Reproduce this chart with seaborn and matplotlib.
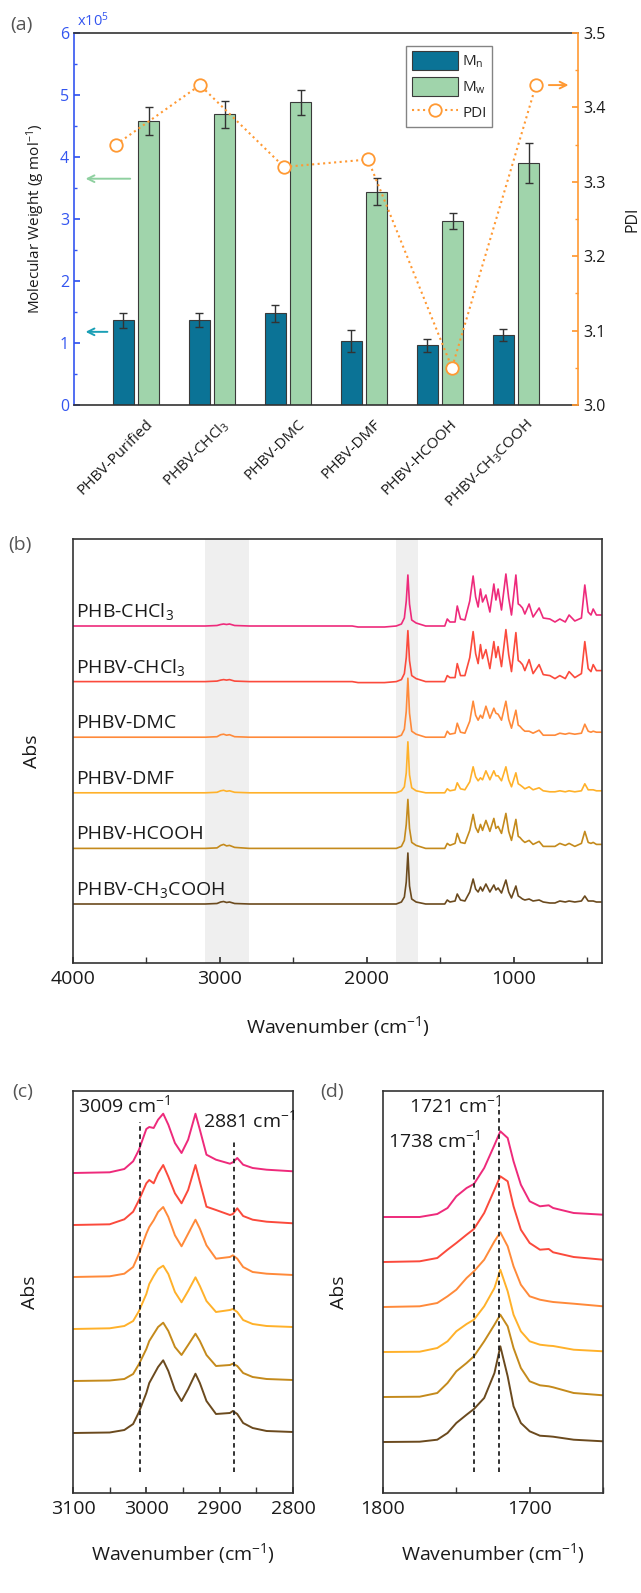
import numpy as np
import pandas as pd
import matplotlib
matplotlib.use("Agg")
import matplotlib.pyplot as plt
import matplotlib.transforms as mtransforms
from matplotlib.ticker import MultipleLocator, FormatStrFormatter, NullLocator
from matplotlib.patches import Patch
from matplotlib.lines import Line2D
import seaborn as sns

# ---------------- (a) molecular weight and PDI ----------------
samples = ["PHBV-Purified", "PHBV-CHCl$_3$", "PHBV-DMC", "PHBV-DMF",
           "PHBV-HCOOH", "PHBV-CH$_3$COOH"]
mn = [1.37, 1.37, 1.48, 1.03, 0.96, 1.13]          # x10^5 g/mol
mn_err = [0.12, 0.11, 0.14, 0.18, 0.11, 0.10]
mw = [4.58, 4.69, 4.88, 3.44, 2.97, 3.90]          # x10^5 g/mol
mw_err = [0.22, 0.22, 0.20, 0.22, 0.13, 0.32]
pdi = [3.35, 3.43, 3.32, 3.33, 3.05, 3.43]

# ---------------- (b) full FTIR spectra ----------------
spec_names = ["PHB-CHCl$_3$", "PHBV-CHCl$_3$", "PHBV-DMC", "PHBV-DMF",
              "PHBV-HCOOH", "PHBV-CH$_3$COOH"]
wn_b = [4000, 3500, 3100, 3020, 2995, 2975, 2955, 2935, 2900, 2800,
        2620, 2100, 2060, 1880, 1800, 1765, 1745, 1732, 1721, 1710,
        1695, 1665, 1600, 1470, 1453, 1435, 1400, 1385, 1363, 1333,
        1300, 1277, 1260, 1243, 1227, 1213, 1190, 1163, 1136, 1122,
        1107, 1084, 1054, 1035, 1016, 986, 970, 959, 941, 925,
        896, 869, 828, 800, 755, 720, 687, 650, 624, 585,
        540, 517, 494, 475, 460, 438, 404]
abs_phb_chcl3 = [0, 0, 0, 0.5, 1.5, 2, 1.5, 2, 0.5, 0,
                 0, 0, -1, -1, 0, 2, 8, 25, 51, 22,
                 6, 3, 0, 0, 7, 4, 4, 20, 7, 6,
                 25, 50, 29, 19, 37, 24, 31, 14, 42, 26,
                 37, 16, 52, 28, 11, 51, 22, 21, 18, 12,
                 22, 9, 18, 8, 7, 4, 7, 4, 11, 5,
                 8, 41, 14, 11, 17, 11, 11]
abs_phbv_chcl3 = [0, 0, 0, 0.5, 1.5, 2, 1.5, 2, 0.5, 0,
                  0, 0, -1, -1, 0, 2, 8, 24, 51, 21,
                  6, 3, 0, 0, 6, 4, 4, 18, 6, 6,
                  24, 50, 28, 18, 37, 23, 32, 13, 40, 24,
                  35, 15, 52, 27, 10, 49, 21, 20, 17, 11,
                  22, 8, 17, 7, 6, 3, 6, 3, 10, 4,
                  8, 40, 13, 10, 17, 11, 11]
abs_dmc = [0, 0, 0, 0.5, 2.5, 3, 2, 2.5, 0.5, 0,
           0, 0, 0, 0, 0, 2, 8, 26, 59, 24,
           6, 3, 0, 0, 6, 3, 4, 14, 5, 4,
           16, 36, 22, 17, 22, 19, 31, 19, 29, 24,
           23, 17, 36, 18, 9, 27, 12, 11, 8, 6,
           6, 4, 7, 2, 2, 2, 4, 3, 4, 3,
           4, 13, 6, 5, 6, 5, 5]
abs_dmf = [0, 0, 0, 0.5, 2, 2.5, 1.5, 2, 0.5, 0,
           0, 0, 0, 0, 0, 2, 6, 20, 51, 18,
           5, 2, 0, 0, 4, 2, 3, 10, 4, 3,
           11, 26, 16, 12, 15, 13, 22, 13, 22, 17,
           17, 12, 26, 13, 6, 20, 9, 8, 6, 4,
           6, 3, 5, 2, 1, 1, 2, 1, 2, 1,
           2, 9, 3, 3, 3, 2, 2]
abs_hcooh = [0, 0, 0, 0.5, 3, 4, 2.5, 3, 1, 0,
             0, 0, 0, 0, 0, 2, 8, 24, 49, 20,
             6, 3, 0, 0, 5, 3, 5, 15, 6, 5,
             18, 34, 21, 16, 24, 18, 28, 17, 30, 20,
             22, 15, 35, 17, 8, 29, 12, 11, 8, 6,
             8, 4, 7, 2, 2, 2, 5, 3, 5, 2,
             5, 17, 6, 5, 6, 4, 4]
abs_ch3cooh = [0, 0, 0, 0.5, 2, 2.5, 1.5, 2, 0.5, 0,
               0, 0, 0, 0, 0, 2, 7, 22, 51, 18,
               5, 2, 0, 0, 4, 2, 3, 10, 4, 3,
               12, 25, 15, 12, 17, 13, 20, 12, 19, 14,
               16, 11, 24, 12, 6, 18, 8, 7, 5, 4,
               5, 3, 4, 2, 1, 1, 3, 2, 3, 2,
               3, 8, 3, 3, 3, 2, 2]
spectra_b = [abs_phb_chcl3, abs_phbv_chcl3, abs_dmc, abs_dmf, abs_hcooh, abs_ch3cooh]

# ---------------- (c) C-H stretching region ----------------
wn_c = [3100, 3050, 3030, 3018, 3010, 3000, 2996, 2990, 2984, 2977,
        2970, 2961, 2952, 2943, 2933, 2927, 2918, 2905, 2886, 2882,
        2876, 2868, 2855, 2836, 2800]
spectra_c = [
    [0, 0.7, 4, 11.7, 23.3, 44, 46, 45, 53.3, 59.3,
     48.3, 30, 20, 33.3, 59.3, 43.3, 18.3, 13.3, 9.3, 10.7,
     15, 8.3, 5, 3.3, 1.7],
    [0, 0.7, 5.7, 13.3, 25, 41.7, 45, 41.7, 51.7, 60,
     48.3, 31.7, 21.7, 35, 60, 43, 18.3, 15, 10, 11,
     16.7, 9, 5.3, 3.3, 1.7],
    [0, 0.7, 3.3, 10, 23.3, 43.3, 50, 56.7, 65, 70,
     60, 41.7, 30.7, 43.3, 57.3, 48.3, 31.7, 18.3, 20, 21.7,
     18.3, 10, 5, 3.3, 2],
    [0, 0.7, 3, 8, 18, 35, 45, 53, 60, 63.3,
     55, 37, 26.7, 38, 51.7, 43, 28, 17, 19, 20,
     17, 9, 5, 3, 2],
    [0, 0.5, 2, 7, 17, 32, 40, 47, 54, 58.3,
     50, 34, 26, 36, 47.3, 40, 26, 15, 16, 17.3,
     15, 8, 4, 2, 1],
    [0, 0.5, 3, 9, 21, 40, 50, 58, 66, 72.7,
     62, 43, 32, 44, 59.3, 50, 32, 19, 20, 22,
     19, 10, 5, 2, 1],
]
peaks_c = [3009, 2881]

# ---------------- (d) C=O stretching region ----------------
wn_d = [1800, 1775, 1763, 1756, 1750, 1743, 1738, 1731, 1724, 1720,
        1715, 1711, 1706, 1700, 1693, 1687, 1684, 1670, 1650]
spectra_d = [
    [0, 0, 3, 9, 20.7, 29, 33, 49, 72, 85.7,
     79, 55.7, 32.3, 15.7, 10.7, 11.7, 9, 4, 2.3],
    [0, 0.7, 4, 12.3, 19, 27.3, 33, 49, 72.3, 85.7,
     80.7, 55.7, 32.3, 19, 12.3, 13, 9.7, 5, 2.3],
    [0, 0.7, 4, 10.7, 17.3, 29, 35.7, 47.3, 65.7, 74.7,
     60.7, 40.7, 22.3, 10.7, 7.3, 5.7, 5, 3.3, 0.7],
    [0, 0.3, 4, 10.7, 20.7, 28, 32.3, 45.7, 64, 82.3,
     60.7, 37.3, 20.7, 10.7, 7.3, 6.3, 6, 2.3, 0.7],
    [0, 0.3, 4, 14, 25.7, 34, 40.7, 55.7, 72.3, 82.3,
     70.7, 49, 29, 15.7, 11.7, 10.7, 9.7, 4, 1.7],
    [0, 0.3, 2.3, 9, 19, 27.3, 33, 44, 69, 95.7,
     65.7, 35.7, 19, 10.7, 6.3, 5.7, 5.3, 2.3, 0.7],
]
peaks_d = [1721, 1738]

# ---------------- style ----------------
sns.set_theme(style="ticks")
plt.rcParams["font.family"] = ["Open Sans", "DejaVu Sans"]
plt.rcParams["mathtext.default"] = "regular"
plt.rcParams["axes.edgecolor"] = "#333333"

blue = "#3355f0"
orange = "#ff9933"
mn_color = "#0b7396"
mw_color = "#a0d4ab"
line_colors = ["#ee2a7b", "#fb4a3c", "#ff8a3a", "#ffb12a", "#c48a1c", "#6b4a1e"]
txt = "#1a1a1a"

W, H = 641, 1593
fig = plt.figure(figsize=(W / 100, H / 100), dpi=100)


def rect(l, t, r, b):
    return [l / W, 1 - b / H, (r - l) / W, (b - t) / H]


def panel_label(x, y, s):
    fig.text(x / W, 1 - y / H, s, fontsize=14, color="#555555", va="center", ha="left")


# ---------------- panel (a) ----------------
ax = fig.add_axes(rect(74, 33, 578, 405))
df = pd.DataFrame({"sample": samples * 2,
                   "series": ["Mn"] * 6 + ["Mw"] * 6,
                   "value": mn + mw})
sns.barplot(data=df, x="sample", y="value", hue="series", order=samples,
            palette=[mn_color, mw_color], saturation=1, width=0.672, gap=0.18,
            edgecolor="#3a3a3a", linewidth=0.8, errorbar=None, legend=False, ax=ax)
for cont, err in zip(ax.containers, [mn_err, mw_err]):
    xs = [p.get_x() + p.get_width() / 2 for p in cont]
    ys = [p.get_height() for p in cont]
    ax.errorbar(xs, ys, yerr=err, fmt="none", ecolor="#333333",
                elinewidth=1, capsize=3, capthick=1, zorder=5)

ax.set_xlim(-0.816, 5.816)
ax.set_ylim(0, 6)
ax.set_xlabel("")
ax.set_ylabel("Molecular Weight (g mol$^{-1}$)", fontsize=11, color=txt)
ax.yaxis.set_label_coords(-0.054, 0.5)
ax.yaxis.set_major_locator(MultipleLocator(1))
ax.yaxis.set_minor_locator(MultipleLocator(0.5))
ax.tick_params(axis="y", which="both", direction="in", colors=blue, labelsize=11.5)
ax.tick_params(axis="y", which="major", length=4)
ax.tick_params(axis="y", which="minor", length=2.5)
ax.tick_params(axis="x", length=0, labelsize=11, labelcolor=txt, pad=4)
ax.set_xticks(range(len(samples)))
ax.set_xticklabels(samples, rotation=45, ha="right", va="top", rotation_mode="anchor")
shift = mtransforms.ScaledTranslation(9 / 100, -6 / 100, fig.dpi_scale_trans)
for lab in ax.get_xticklabels():
    lab.set_transform(lab.get_transform() + shift)
ax.spines["left"].set_color(blue)
ax.spines["right"].set_visible(False)
for s in ["left", "top", "bottom"]:
    ax.spines[s].set_linewidth(1.2)
ax.text(0.006, 1.008, "x10$^5$", transform=ax.transAxes, color=blue,
        fontsize=10.5, va="bottom", ha="left")
ax.annotate("", xy=(-0.70, 3.65), xytext=(-0.04, 3.65),
            arrowprops=dict(arrowstyle="->", color="#8fd0a0", lw=1.4))
ax.annotate("", xy=(-0.70, 1.18), xytext=(-0.34, 1.18),
            arrowprops=dict(arrowstyle="->", color="#1a9fb5", lw=1.4))

ax2 = fig.add_axes(rect(74, 33, 578, 405), label="pdi")
ax2.patch.set_visible(False)
sns.lineplot(x=np.arange(len(pdi)), y=pdi, ax=ax2, color=orange, lw=1.5,
             linestyle=":", marker="o", markersize=9, markerfacecolor="white",
             markeredgecolor=orange, markeredgewidth=1.3, estimator=None)
ax2.set_xlim(-0.5, 5.5)
ax2.set_ylim(3.0, 3.5)
ax2.xaxis.set_visible(False)
ax2.yaxis.tick_right()
ax2.yaxis.set_label_position("right")
ax2.set_ylabel("PDI", fontsize=11.5, color=txt)
ax2.yaxis.set_label_coords(1.093, 0.5)
ax2.yaxis.set_major_locator(MultipleLocator(0.1))
ax2.yaxis.set_minor_locator(MultipleLocator(0.05))
ax2.yaxis.set_major_formatter(FormatStrFormatter("%.1f"))
ax2.tick_params(axis="y", which="both", direction="in", colors=orange,
                labelcolor=txt, labelsize=11.5)
ax2.tick_params(axis="y", which="major", length=4)
ax2.tick_params(axis="y", which="minor", length=2.5)
for s in ["left", "top", "bottom"]:
    ax2.spines[s].set_visible(False)
ax2.spines["right"].set_color(orange)
ax2.spines["right"].set_linewidth(1.2)
ax2.annotate("", xy=(5.42, 3.43), xytext=(5.12, 3.43),
             arrowprops=dict(arrowstyle="->", color=orange, lw=1.4))
handles = [Patch(facecolor=mn_color, edgecolor="#3a3a3a", lw=0.8),
           Patch(facecolor=mw_color, edgecolor="#3a3a3a", lw=0.8),
           Line2D([], [], color=orange, ls=":", lw=1.5, marker="o", ms=9,
                  mfc="white", mec=orange, mew=1.3)]
leg = ax2.legend(handles, ["M$_n$", "M$_w$", "PDI"], loc="upper right",
                 bbox_to_anchor=(0.829, 0.965), fontsize=11, frameon=True,
                 fancybox=False, edgecolor="#666666", handlelength=3.0,
                 handleheight=1.5, handletextpad=0.3, labelspacing=0.45,
                 borderpad=0.35, borderaxespad=0)
leg.get_frame().set_linewidth(1.0)
panel_label(10, 25, "(a)")


def style_spec(a, major, minor, xl):
    a.set_xlim(*xl)
    a.xaxis.set_major_locator(MultipleLocator(major))
    a.xaxis.set_minor_locator(MultipleLocator(minor))
    a.yaxis.set_major_locator(NullLocator())
    a.tick_params(axis="x", which="both", direction="in", length=4,
                  labelsize=14, labelcolor=txt, color="#333333", pad=5)
    a.set_xlabel("Wavenumber (cm$^{-1}$)", fontsize=14, color=txt)
    a.set_ylabel("Abs", fontsize=14, color=txt)
    for s in a.spines.values():
        s.set_linewidth(1.2)
        s.set_visible(True)


# ---------------- panel (b) ----------------
axb = fig.add_axes(rect(73, 539, 602, 963))
axb.axvspan(3100, 2800, color="#efefef", lw=0, zorder=0)
axb.axvspan(1800, 1650, color="#efefef", lw=0, zorder=0)
for i, (name, vals, c) in enumerate(zip(spec_names, spectra_b, line_colors)):
    off = (5 - i) * 55.6
    sns.lineplot(x=wn_b, y=np.array(vals) + off, ax=axb, color=c, lw=1.2,
                 estimator=None)
    axb.text(3978, off + 9, name, fontsize=14, color=txt, va="baseline", ha="left")
axb.set_ylim(-59, 365)
style_spec(axb, 1000, 500, (4000, 400))
axb.xaxis.set_label_coords(0.5, -0.12)
axb.yaxis.set_label_coords(-0.06, 0.5)
panel_label(8, 545, "(b)")

# ---------------- panel (c) ----------------
axc = fig.add_axes(rect(73, 1091, 293, 1493))
for i, (vals, c) in enumerate(zip(spectra_c, line_colors)):
    sns.lineplot(x=wn_c, y=np.array(vals) + (5 - i) * 52, ax=axc, color=c,
                 lw=1.4, estimator=None)
axc.set_ylim(-60, 342)
axc.axvline(peaks_c[0], ymin=0.052, ymax=0.923, color="#222222", ls="--",
            lw=1.3, dashes=(2.5, 2))
axc.axvline(peaks_c[1], ymin=0.052, ymax=0.878, color="#222222", ls="--",
            lw=1.3, dashes=(2.5, 2))
axc.text(3093, 328, f"{peaks_c[0]} cm$^{{-1}}$", fontsize=14, color=txt,
         va="center", ha="left")
axc.text(2923, 313, f"{peaks_c[1]} cm$^{{-1}}$", fontsize=14, color=txt,
         va="center", ha="left")
style_spec(axc, 100, 50, (3100, 2800))
axc.xaxis.set_label_coords(0.5, -0.119)
axc.yaxis.set_label_coords(-0.155, 0.5)
panel_label(12, 1092, "(c)")

# ---------------- panel (d) ----------------
axd = fig.add_axes(rect(383, 1091, 603, 1493))
for i, (vals, c) in enumerate(zip(spectra_d, line_colors)):
    sns.lineplot(x=wn_d, y=np.array(vals) + (5 - i) * 45, ax=axd, color=c,
                 lw=1.4, estimator=None)
axd.set_ylim(-51, 351)
axd.axvline(peaks_d[0], ymin=0.052, ymax=0.965, color="#222222", ls="--",
            lw=1.3, dashes=(2.5, 2))
axd.axvline(peaks_d[1], ymin=0.052, ymax=0.878, color="#222222", ls="--",
            lw=1.3, dashes=(2.5, 2))
axd.text(1782, 337, f"{peaks_d[0]} cm$^{{-1}}$", fontsize=14, color=txt,
         va="center", ha="left")
axd.text(1796.6, 302, f"{peaks_d[1]} cm$^{{-1}}$", fontsize=14, color=txt,
         va="center", ha="left")
style_spec(axd, 100, 50, (1800, 1650))
axd.xaxis.set_label_coords(0.5, -0.119)
axd.yaxis.set_label_coords(-0.159, 0.5)
panel_label(320, 1092, "(d)")

fig.savefig("out.png", dpi=100)
